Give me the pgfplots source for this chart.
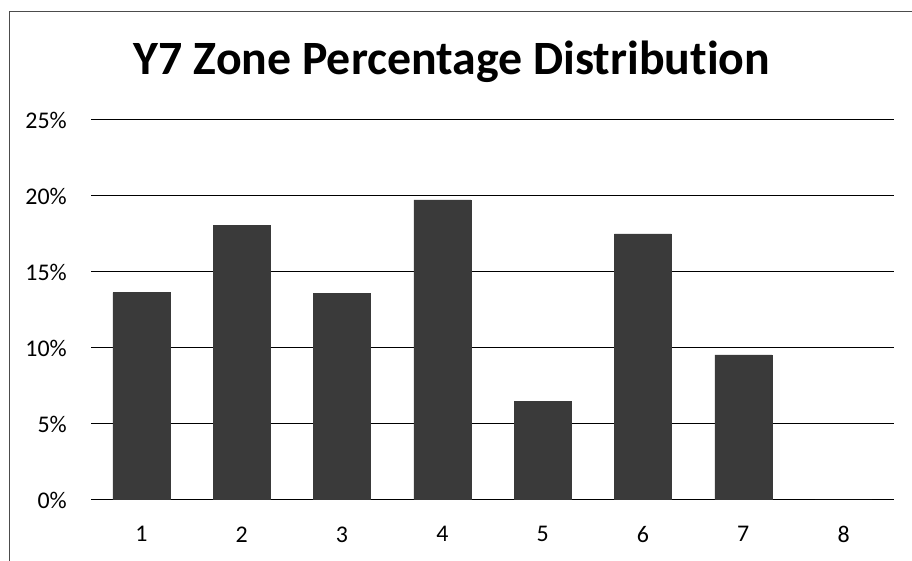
\documentclass[border=0pt]{standalone}
\usepackage{pgfplots}
\pgfplotsset{compat=1.18}
\usepackage{fontspec}
\setmainfont{Carlito}[Ligatures=NoCommon]
\definecolor{barc}{RGB}{58,58,58}
\begin{document}
\begin{tikzpicture}[x=1bp,y=1bp]
\path[use as bounding box] (0,0) rectangle (912,561);
\draw[gray!60!black, line width=1bp] (9,0) -- (9,549) -- (912,549);
\node[anchor=base, font=\fontsize{48}{54}\selectfont\bfseries] at (452,486) {Y7 Zone Percentage Distribution};
\begin{axis}[
  at={(91.3bp,61bp)}, anchor=south west,
  scale only axis, width=802.4bp, height=380bp,
  xmin=0.5, xmax=8.5, ymin=0, ymax=25,
  axis line style={draw=none},
  ymajorgrids, grid style={black, line width=1bp},
  major tick length=0pt,
  xtick={1,...,8},
  ytick={0,5,10,15,20,25},
  yticklabels={0\%,5\%,10\%,15\%,20\%,25\%},
  /pgf/number format/assume math mode=true,
  tick label style={font=\fontsize{24}{29}\selectfont},
  xticklabel style={yshift=-23bp},
  yticklabel style={xshift=-21bp},
  ybar, bar width=57bp,
]
\addplot[fill=barc, draw=barc] coordinates {(1,13.64) (2,18.05) (3,13.6) (4,19.74) (5,6.47) (6,17.5) (7,9.54) (8,0)};
\end{axis}
\end{tikzpicture}
\end{document}
